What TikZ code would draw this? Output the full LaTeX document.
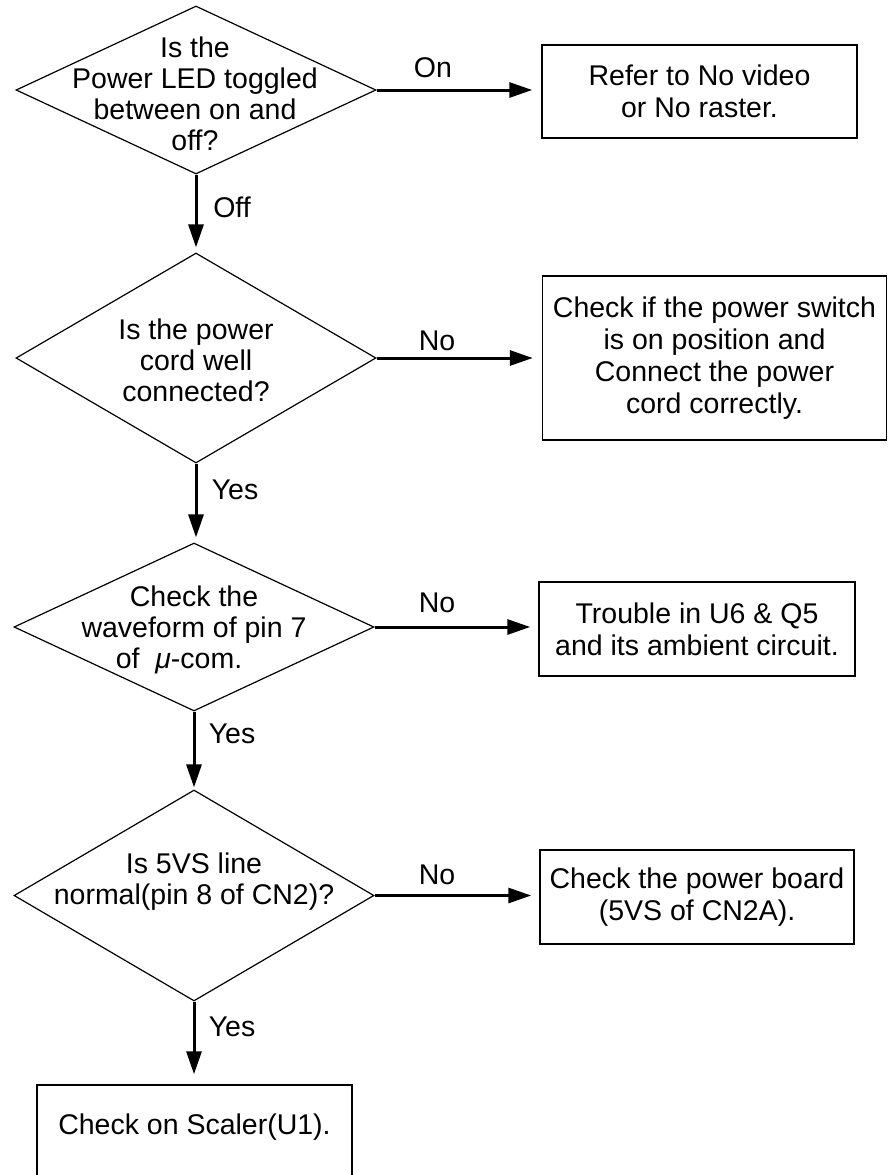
\documentclass[tikz,border=0pt]{standalone}
\usepackage{fontspec}
\setmainfont{Liberation Sans}
\usetikzlibrary{shapes.geometric,arrows.meta}
\begin{document}
\begin{tikzpicture}[x=1pt,y=-1pt,
  dia/.style={draw, shape=diamond, inner sep=0pt, line width=1.2pt},
  box/.style={draw, rectangle, inner sep=0pt, line width=1.5pt, align=center, font=\fontsize{28.5}{32}\selectfont},
  txt/.style={align=center, inner sep=0pt, font=\fontsize{28.5}{31}\selectfont},
  lbl/.style={inner sep=0pt, font=\fontsize{28.5}{31}\selectfont},
  arr/.style={line width=3pt, -{Triangle[length=23pt,width=15pt]}}
]
\clip (0,0) rectangle (887,1175);
\useasboundingbox (0,0) rectangle (887,1175);

% decisions
\node[dia, minimum width=360pt, minimum height=168pt] (d1) at (196,90) {};
\node[dia, minimum width=360pt, minimum height=210pt] (d2) at (196,358) {};
\node[dia, minimum width=360pt, minimum height=168pt] (d3) at (194,627) {};
\node[dia, minimum width=360pt, minimum height=211pt] (d4) at (194,895.5) {};

\node[txt] (t1) at (195,94) {Is the\\Power LED toggled\\between on and\\off?};
\node[txt] (t2) at (196,360) {Is the power\\cord well\\connected?};
\node[txt] (t3) at (194,630) {Check the\\waveform of pin 7\\of \ \textit{μ}-com.\kern30pt};
\node[txt] (t4) at (194,882) {Is 5VS line\\normal(pin 8 of CN2)?};

% boxes
\node[box, minimum width=315pt, minimum height=93pt] (b1) at (699.5,91.5) {Refer to No video\\or No raster.};
\node[box, minimum width=344pt, minimum height=164pt] (b2) at (714.5,358) {Check if the power switch\\is on position and\\Connect the power\\cord correctly.};
\node[box, minimum width=316pt, minimum height=94pt] (b3) at (697,629) {Trouble in U6 \& Q5\\and its ambient circuit.};
\node[box, minimum width=314pt, minimum height=94pt] (b4) at (697,897) {Check the power board\\(5VS of CN2A).};
\node[box, minimum width=315pt, minimum height=110pt] (b5) at (194.5,1140) {};
\node[txt] (t5) at (194.5,1127) {Check on Scaler(U1).};

% connectors
\draw[arr, shorten >=5pt] (d1.south) -- (d1.south |- d2.north);
\draw[arr, shorten >=5pt] (d2.south) -- (d2.south |- d3.north);
\draw[arr, shorten >=2pt] (d3.south) -- (d3.south |- d4.north);
\draw[arr, shorten >=10pt] (d4.south) -- (d4.south |- b5.north);

\draw[arr, shorten >=9pt] (d1.east) -- (d1.east -| b1.west);
\draw[arr, shorten >=9pt] (d2.east) -- (d2.east -| b2.west);
\draw[arr, shorten >=8pt] (d3.east) -- (d3.east -| b3.west);
\draw[arr, shorten >=8pt] (d4.east) -- (d4.east -| b4.west);

% labels
\node[lbl] (l1) at (433,68) {On};
\node[lbl] (l2) at (232,207) {Off};
\node[lbl] (l3) at (437,341) {No};
\node[lbl] (l4) at (235,490) {Yes};
\node[lbl] (l5) at (437,603) {No};
\node[lbl] (l6) at (232,734) {Yes};
\node[lbl] (l7) at (437,875) {No};
\node[lbl] (l8) at (232,1027) {Yes};
\end{tikzpicture}
\end{document}
